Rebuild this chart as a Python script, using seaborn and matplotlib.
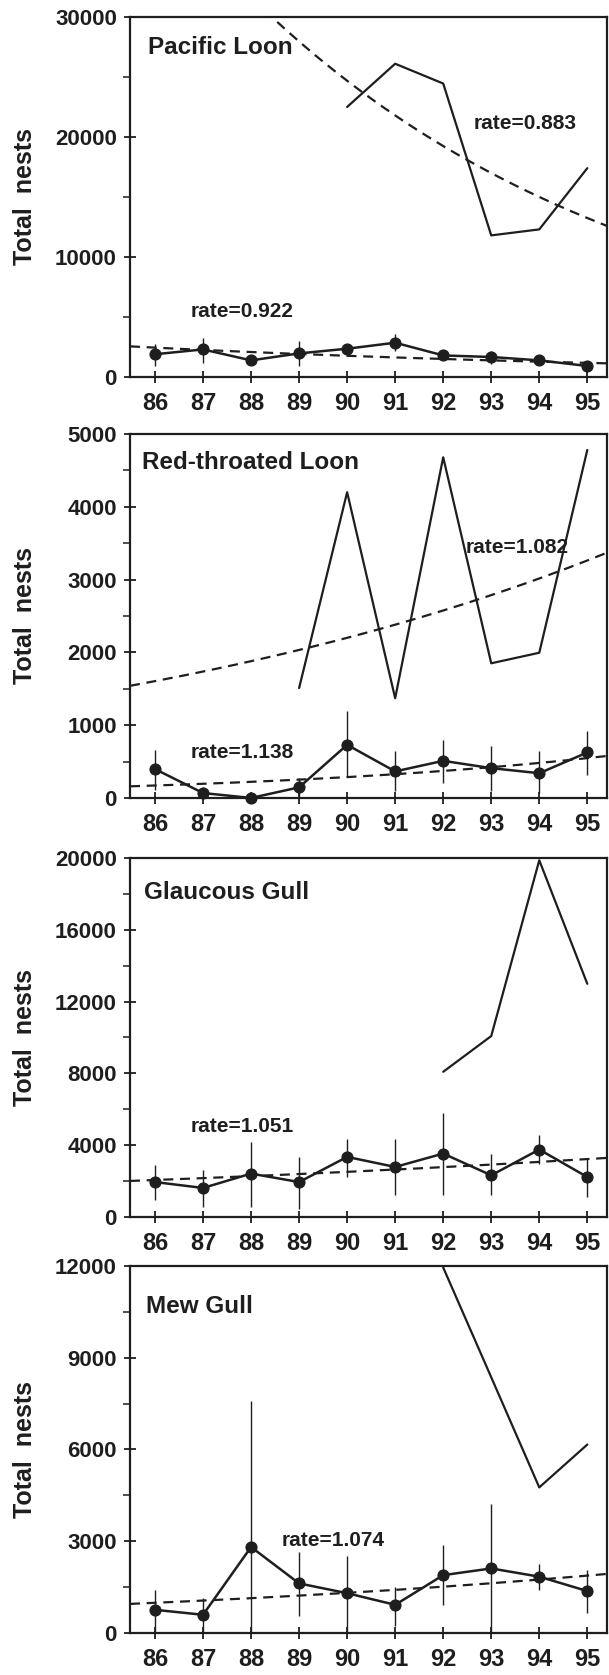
import numpy as np
import pandas as pd
import matplotlib
matplotlib.use("Agg")
import matplotlib.pyplot as plt
import seaborn as sns
from matplotlib.ticker import MultipleLocator

# ---------------- data ----------------
years = [86, 87, 88, 89, 90, 91, 92, 93, 94, 95]
species = ["Pacific Loon", "Red-throated Loon", "Glaucous Gull", "Mew Gull"]

# ground-survey estimates (points with error bars)
pl_ground = [1900, 2300, 1390, 1970, 2360, 2860, 1800, 1670, 1390, 920]
pl_low = [920, 1190, 1100, 920, 2030, 2160, 1470, 1050, 1100, 700]
pl_high = [2720, 3275, 1700, 3000, 2720, 3600, 2160, 2160, 1700, 1150]

rt_ground = [397, 68, 0, 146, 730, 365, 510, 410, 340, 625]
rt_low = [114, 0, 0, 0, 300, 90, 205, 90, 70, 320]
rt_high = [660, 150, 40, 280, 1190, 640, 800, 710, 640, 915]

gg_ground = [1950, 1620, 2420, 1950, 3350, 2790, 3535, 2325, 3760, 2230]
gg_low = [930, 560, 560, 470, 2230, 1210, 1210, 1210, 2980, 1115]
gg_high = [2880, 2600, 4190, 3350, 4320, 4320, 5800, 3535, 4560, 3255]

mg_ground = [757, 595, 2810, 1620, 1300, 920, 1890, 2110, 1840, 1370]
mg_low = [0, 0, 0, 540, 0, 216, 920, 0, 1400, 650]
mg_high = [1400, 1135, 7570, 2650, 2510, 1510, 2860, 4220, 2270, 2050]

# aerial-survey totals (solid lines, no markers)
pl_aerial_years = [90, 91, 92, 93, 94, 95]
pl_aerial = [22500, 26100, 24450, 11800, 12300, 17400]
rt_aerial_years = [89, 90, 91, 92, 93, 94, 95]
rt_aerial = [1510, 4200, 1370, 4680, 1850, 1995, 4780]
gg_aerial_years = [92, 93, 94, 95]
gg_aerial = [8090, 10080, 19870, 12990]
mg_aerial_years = [92, 93, 94, 95]
mg_aerial = [11950, 8360, 4760, 6160]

# exponential trends: fitted level at year 86 and annual rate
ground_rate = [0.922, 1.138, 1.051, 1.074]
ground_level86 = [2450, 171, 2063, 986]
aerial_rate = [0.883, 1.082, None, None]
aerial_level86 = [40600, 1605, None, None]

ymax = [30000, 5000, 20000, 12000]
ymajor = [10000, 1000, 4000, 3000]
yminor = [5000, 500, 2000, 1500]

# ---------------- style ----------------
sns.set_theme(style="ticks")
plt.rcParams["font.family"] = ["Liberation Sans Narrow", "Liberation Sans", "DejaVu Sans"]
plt.rcParams["font.weight"] = "bold"
plt.rcParams["axes.labelweight"] = "bold"
INK = "#1e1e1e"

fig = plt.figure(figsize=(6.09, 16.75), dpi=100)
fig.patch.set_facecolor("white")

# axes boxes in figure fraction [left, bottom, width, height]
boxes = [
    [0.2135, 0.7749, 0.784, 0.2150],
    [0.2135, 0.5236, 0.784, 0.2173],
    [0.2135, 0.2734, 0.784, 0.2144],
    [0.2135, 0.0251, 0.784, 0.2191],
]
title_pos = [(0.038, 0.914), (0.025, 0.923), (0.030, 0.905), (0.034, 0.89)]
ground_lab_pos = [(0.126, 0.183), (0.126, 0.126), (0.126, 0.253), (0.318, 0.251)]
aerial_lab_pos = [(0.72, 0.705), (0.703, 0.688), None, None]

grounds = [(pl_ground, pl_low, pl_high), (rt_ground, rt_low, rt_high),
           (gg_ground, gg_low, gg_high), (mg_ground, mg_low, mg_high)]
aerials = [(pl_aerial_years, pl_aerial), (rt_aerial_years, rt_aerial),
           (gg_aerial_years, gg_aerial), (mg_aerial_years, mg_aerial)]

XLIM = (85.48, 95.42)
xs = np.linspace(XLIM[0], XLIM[1], 200)
DASH = (0, (4.5, 3))

for i in range(4):
    ax = fig.add_axes(boxes[i])
    g, lo, hi = grounds[i]
    dfg = pd.DataFrame({"year": years, "nests": g})
    # error bars
    ax.vlines(years, lo, hi, color=INK, lw=1.0, zorder=2, clip_on=False)
    # ground trend (dashed)
    ax.plot(xs, ground_level86[i] * ground_rate[i] ** (xs - 86), color=INK,
            lw=1.6, ls=DASH, zorder=2)
    # ground estimates
    sns.lineplot(data=dfg, x="year", y="nests", ax=ax, color=INK, lw=1.8,
                 marker="o", markersize=8, markeredgecolor=INK, zorder=3,
                 clip_on=False)
    # aerial totals
    ay, av = aerials[i]
    dfa = pd.DataFrame({"year": ay, "nests": av})
    sns.lineplot(data=dfa, x="year", y="nests", ax=ax, color=INK, lw=1.6, zorder=3)
    if aerial_rate[i] is not None:
        ax.plot(xs, aerial_level86[i] * aerial_rate[i] ** (xs - 86), color=INK,
                lw=1.6, ls=DASH, zorder=2)
        ax.text(*aerial_lab_pos[i], f"rate={aerial_rate[i]:.3f}", transform=ax.transAxes,
                ha="left", va="center", fontsize=15, color=INK)
    ax.text(*ground_lab_pos[i], f"rate={ground_rate[i]:.3f}", transform=ax.transAxes,
            ha="left", va="center", fontsize=15, color=INK)
    ax.text(*title_pos[i], species[i], transform=ax.transAxes, ha="left",
            va="center", fontsize=17.5, color=INK)

    ax.set_xlim(*XLIM)
    ax.set_ylim(0, ymax[i])
    ax.set_xticks(years)
    ax.set_xticklabels([str(y) for y in years])
    ax.yaxis.set_major_locator(MultipleLocator(ymajor[i]))
    ax.yaxis.set_minor_locator(MultipleLocator(yminor[i]))
    ax.tick_params(axis="both", which="major", direction="inout", length=9,
                   width=1.3, color=INK, labelsize=16, labelcolor=INK)
    ax.tick_params(axis="x", labelsize=17, pad=6)
    ax.tick_params(axis="y", which="minor", direction="out", length=5,
                   width=1.1, color=INK)
    ax.tick_params(axis="y", pad=5)
    ax.set_xlabel("")
    ax.set_ylabel("Total  nests", fontsize=18, fontweight="bold", color=INK)
    ax.yaxis.set_label_coords(-0.195, 0.5)
    for s in ax.spines.values():
        s.set_color(INK)
        s.set_linewidth(1.6)
        s.set_visible(True)
    ax.set_facecolor("white")

fig.savefig("out.png", dpi=100, facecolor="white")
